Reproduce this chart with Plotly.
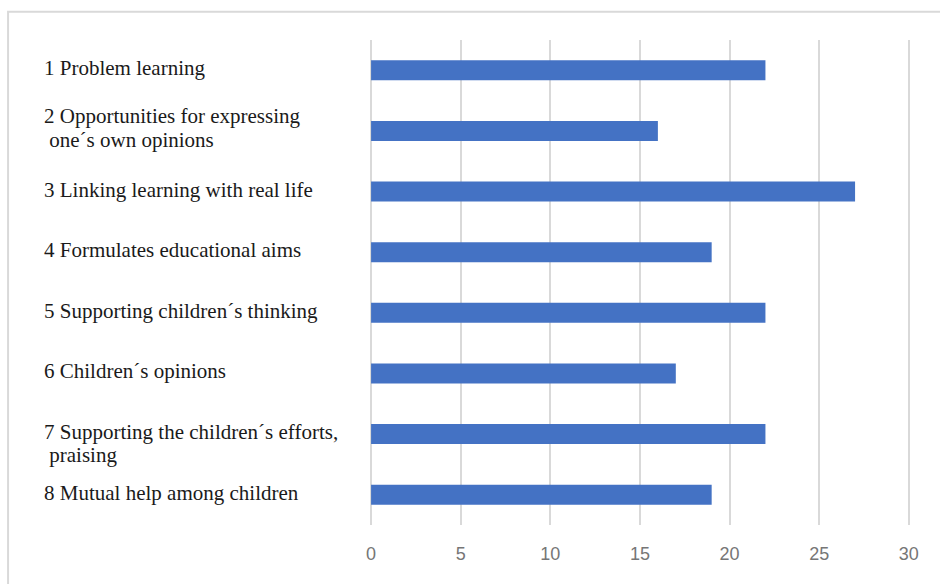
import plotly.graph_objects as go

# Categories (top to bottom) and their scores
categories = [
    "1 Problem learning",
    "2 Opportunities for expressing<br>\u00a0one\u00b4s own opinions",
    "3 Linking learning with real life",
    "4 Formulates educational aims",
    "5 Supporting children\u00b4s thinking",
    "6 Children\u00b4s opinions",
    "7 Supporting the children\u00b4s efforts,<br>\u00a0praising",
    "8 Mutual help among children",
]
values = [22, 16, 27, 19, 22, 17, 22, 19]
tick_values = [0, 5, 10, 15, 20, 25, 30]

ids = [str(i) for i in range(len(categories))]

fig = go.Figure(
    go.Bar(
        x=values,
        y=ids,
        orientation="h",
        width=0.33,
        marker=dict(color="#4472C4", line=dict(width=0)),
        hoverinfo="x",
    )
)

# Left-aligned category labels; wrapped labels are set line by line
# so the line spacing stays tight.
label_font = dict(family="Liberation Serif, Times New Roman, serif", size=21, color="#1a1a1a")
line_shifts = {1: [15, -9], 6: [2, -21]}
for i, (cid, text) in enumerate(zip(ids, categories)):
    lines = text.split("<br>")
    shifts = line_shifts.get(i, [2])
    for line, shift in zip(lines, shifts):
        fig.add_annotation(
            x=-0.607, xref="paper", xanchor="left",
            y=cid, yref="y", yanchor="middle",
            yshift=shift,
            text=line, align="left", showarrow=False,
            font=label_font,
        )

# Light frame around the whole chart
fig.add_shape(
    type="rect", xref="paper", yref="paper",
    x0=-0.669, x1=1.08, y0=-0.2, y1=1.058,
    line=dict(color="#d9d9d9", width=2), fillcolor="rgba(0,0,0,0)", layer="below",
)

fig.update_layout(
    width=940, height=584,
    margin=dict(l=370, r=29, t=40, b=59),
    paper_bgcolor="white", plot_bgcolor="white",
    showlegend=False,
    xaxis=dict(
        range=[-0.06, 30.12], tickvals=tick_values,
        showgrid=True, gridcolor="#d9d9d9", gridwidth=1.5,
        zeroline=True, zerolinecolor="#d9d9d9", zerolinewidth=1.5,
        showline=False, ticks="",
        tickfont=dict(family="Liberation Sans, Arial, sans-serif", size=18, color="#767676"),
        ticklabelstandoff=16,
        fixedrange=True,
    ),
    yaxis=dict(
        categoryorder="array", categoryarray=ids,
        autorange="reversed",
        showticklabels=False, showgrid=False, zeroline=False, showline=False, ticks="",
        fixedrange=True,
    ),
)

fig.write_html("out.html")
